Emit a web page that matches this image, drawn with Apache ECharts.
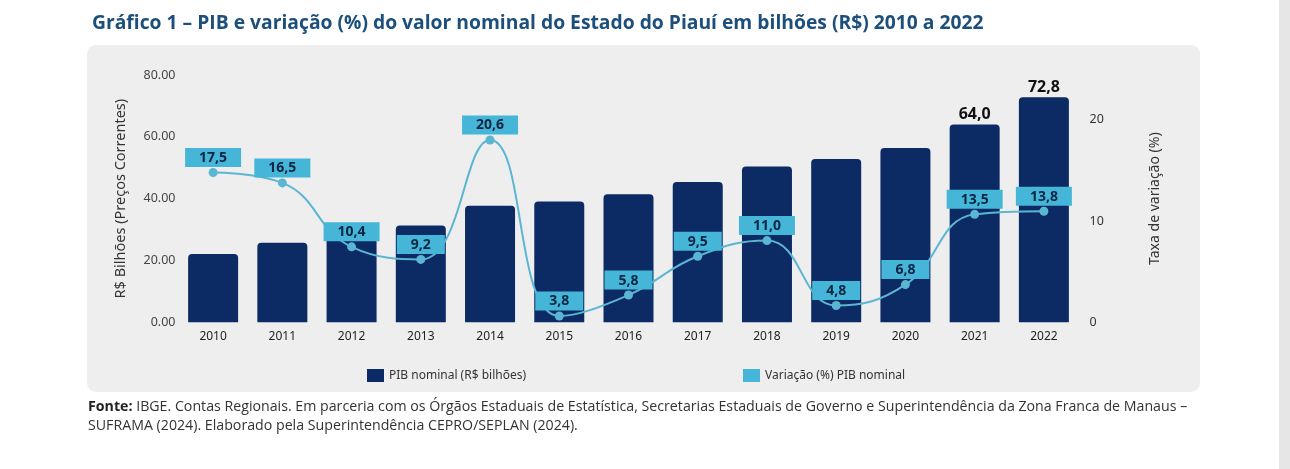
<!DOCTYPE html>
<html><head><meta charset="utf-8">
<script src="https://cdn.jsdelivr.net/npm/echarts@6/dist/echarts.min.js"></script>
<style>html,body{margin:0;padding:0;background:#fff}#c{width:1290px;height:469px}</style>
</head><body><div id="c"></div>
<script>
const years = ['2010','2011','2012','2013','2014','2015','2016','2017','2018','2019','2020','2021','2022'];
const pib = [22.1, 25.7, 28.6, 31.3, 37.7, 39.1, 41.4, 45.4, 50.4, 52.8, 56.4, 64.0, 72.8];
const variacao = [17.5, 16.5, 10.4, 9.2, 20.6, 3.8, 5.8, 9.5, 11.0, 4.8, 6.8, 13.5, 13.8];
const pibLabelled = ['2021','2022'];
const titleText = 'Gráfico 1 – PIB e variação (%) do valor nominal do Estado do Piauí em bilhões (R$) 2010 a 2022';
const sourceLine1 = 'IBGE. Contas Regionais. Em parceria com os Órgãos Estaduais de Estatística, Secretarias Estaduais de Governo e Superintendência da Zona Franca de Manaus –';
const sourceLine2 = 'SUFRAMA (2024). Elaborado pela Superintendência CEPRO/SEPLAN (2024).';
const seriesNames = ['PIB nominal (R$ bilhões)', 'Variação (%) PIB nominal'];

const NAVY = '#0c2a63', CYAN = '#45b6d7', LINE = '#5ab6d3';
const fmt = v => v.toFixed(1).replace('.', ',');
const chart = echarts.init(document.getElementById('c'));
const condensed = '"Open Sans",sans-serif';
const body = '"Noto Sans",Inter,sans-serif';

chart.setOption({
  backgroundColor: '#fff',
  animation: false,
  textStyle: {fontFamily: body},
  title: {
    text: titleText, left: 87, top: 9,
    textStyle: {fontFamily: condensed, fontWeight: 'bold', fontSize: 19.3, color: '#1d4f7c'}
  },
  graphic: [
    {type: 'rect', left: 87, top: 45, shape: {width: 1113, height: 347, r: 9}, style: {fill: '#efeeee'}, z: -10},
    {type: 'rect', left: 1279, top: 0, shape: {width: 11, height: 469}, style: {fill: '#e6e6e6'}, z: -10},
    {type: 'text', left: 88, top: 397, style: {
      text: '{b|Fonte:} ' + sourceLine1 + '\n' + sourceLine2,
      rich: {b: {fontWeight: 'bold', fontFamily: condensed, fontSize: 14.2, fill: '#222'}},
      fontFamily: condensed, fontSize: 14.2, fill: '#333', lineHeight: 19
    }}
  ],
  legend: [
    {data: [seriesNames[0]], left: 362, top: 364, itemWidth: 17, itemHeight: 13, icon: 'rect',
     textStyle: {fontSize: 12, color: '#333', fontFamily: body}},
    {data: [seriesNames[1]], left: 738, top: 364, itemWidth: 17, itemHeight: 13, icon: 'rect',
     itemStyle: {color: CYAN}, lineStyle: {opacity: 0},
     textStyle: {fontSize: 12, color: '#333', fontFamily: body}}
  ],
  grid: {left: 178.5, right: 211.5, top: 75, bottom: 146.7, containLabel: false},
  xAxis: {
    type: 'category', data: years,
    axisLine: {show: false}, axisTick: {show: false},
    axisLabel: {color: '#222', fontSize: 12, margin: 8}
  },
  yAxis: [
    {type: 'value', min: 0, max: 80, interval: 20,
     name: 'R$ Bilhões (Preços Correntes)', nameLocation: 'middle', nameGap: 50, nameRotate: 90,
     nameTextStyle: {fontSize: 14.5, color: '#333'},
     axisLabel: {formatter: v => v.toFixed(2), color: '#444', fontSize: 12.5, margin: 3},
     splitLine: {show: false}, axisLine: {show: false}, axisTick: {show: false}},
    {type: 'value', min: 0, max: 24.4, interval: 10, position: 'right',
     name: 'Taxa de variação (%)', nameLocation: 'middle', nameGap: 70, nameRotate: 90,
     nameTextStyle: {fontSize: 14, color: '#333'},
     axisLabel: {color: '#333', fontSize: 12.5, margin: 11, showMaxLabel: false},
     splitLine: {show: false}, axisLine: {show: false}, axisTick: {show: false}},
    {type: 'value', min: 3.2, max: 26.8, show: false, splitLine: {show: false}}
  ],
  series: [
    {name: seriesNames[0], type: 'bar', yAxisIndex: 0, barWidth: 50,
     itemStyle: {color: NAVY, borderRadius: [4, 4, 0, 0]},
     data: pib.map((v, i) => ({
       value: v,
       label: {show: pibLabelled.includes(years[i]), position: 'top', distance: 2,
               formatter: p => fmt(p.value), fontWeight: 'bold', fontSize: 16, color: '#111'}
     }))},
    {name: seriesNames[1], type: 'line', yAxisIndex: 2, smooth: 0.45,
     symbol: 'circle', symbolSize: 9,
     lineStyle: {color: LINE, width: 2}, itemStyle: {color: LINE},
     label: {show: true, position: 'top', distance: 1, formatter: p => fmt(p.value),
             backgroundColor: CYAN, padding: [3, 14, 2, 14], color: '#0b2545',
             fontWeight: 'bold', fontSize: 14},
     data: variacao}
  ]
});
</script></body></html>
